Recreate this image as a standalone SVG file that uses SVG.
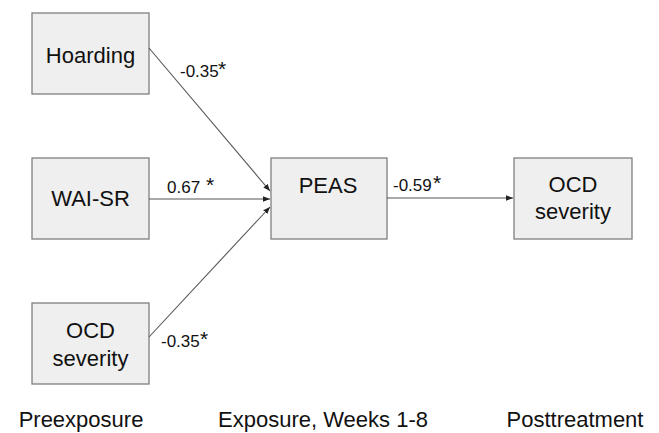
<svg xmlns="http://www.w3.org/2000/svg" width="659" height="433" viewBox="0 0 659 433">
<style>
.box{fill:#efefef;stroke:#7f7f7f;stroke-width:1.3}
.t{font-family:"Liberation Sans",Arial,sans-serif;font-size:22px;fill:#111;text-anchor:middle}
.n{font-family:"Liberation Sans",Arial,sans-serif;font-size:17px;fill:#111}
.s{font-family:"Liberation Sans",Arial,sans-serif;font-size:21px;fill:#111}
.c{stroke:#555;stroke-width:1.1;fill:none;marker-end:url(#ah)}
</style>
<defs>
<marker id="ah" viewBox="0 0 10 10" refX="10" refY="5" markerWidth="7" markerHeight="7" orient="auto" markerUnits="userSpaceOnUse">
<path d="M0,1 L10,5 L0,9 Z" fill="#222"/>
</marker>
</defs>
<rect width="659" height="433" fill="#fff"/>
<g id="hoarding"><rect class="box" x="32" y="13" width="117" height="81"/><text class="t" x="90.5" y="63">Hoarding</text></g>
<g id="wai-sr"><rect class="box" x="32" y="158" width="117" height="81"/><text class="t" x="90.5" y="206">WAI-SR</text></g>
<g id="ocd-pre"><rect class="box" x="32" y="303" width="117" height="81"/><text class="t" x="90.5" y="338">OCD</text><text class="t" x="90.5" y="366">severity</text></g>
<g id="peas"><rect class="box" x="271" y="158" width="116" height="81"/><text class="t" x="328" y="193">PEAS</text></g>
<g id="ocd-post"><rect class="box" x="514" y="158" width="118" height="81"/><text class="t" x="573" y="192">OCD</text><text class="t" x="573" y="219">severity</text></g>
<g id="connectors">
<line class="c" x1="149" y1="48" x2="270" y2="191"/>
<line class="c" x1="149" y1="199" x2="270" y2="199"/>
<line class="c" x1="149" y1="337" x2="270" y2="207"/>
<line class="c" x1="387" y1="198" x2="513" y2="198"/>
</g>
<g id="labels">
<text class="n" x="180" y="77">-0.35</text><text class="s" x="218" y="76">*</text>
<text class="n" x="167" y="193">0.67</text><text class="s" x="206" y="192">*</text>
<text class="n" x="393" y="191">-0.59</text><text class="s" x="433" y="190">*</text>
<text class="n" x="161" y="347">-0.35</text><text class="s" x="200" y="346">*</text>
<text class="t" x="81" y="427">Preexposure</text>
<text class="t" x="323" y="427">Exposure, Weeks 1-8</text>
<text class="t" x="575" y="427">Posttreatment</text>
</g>
</svg>
